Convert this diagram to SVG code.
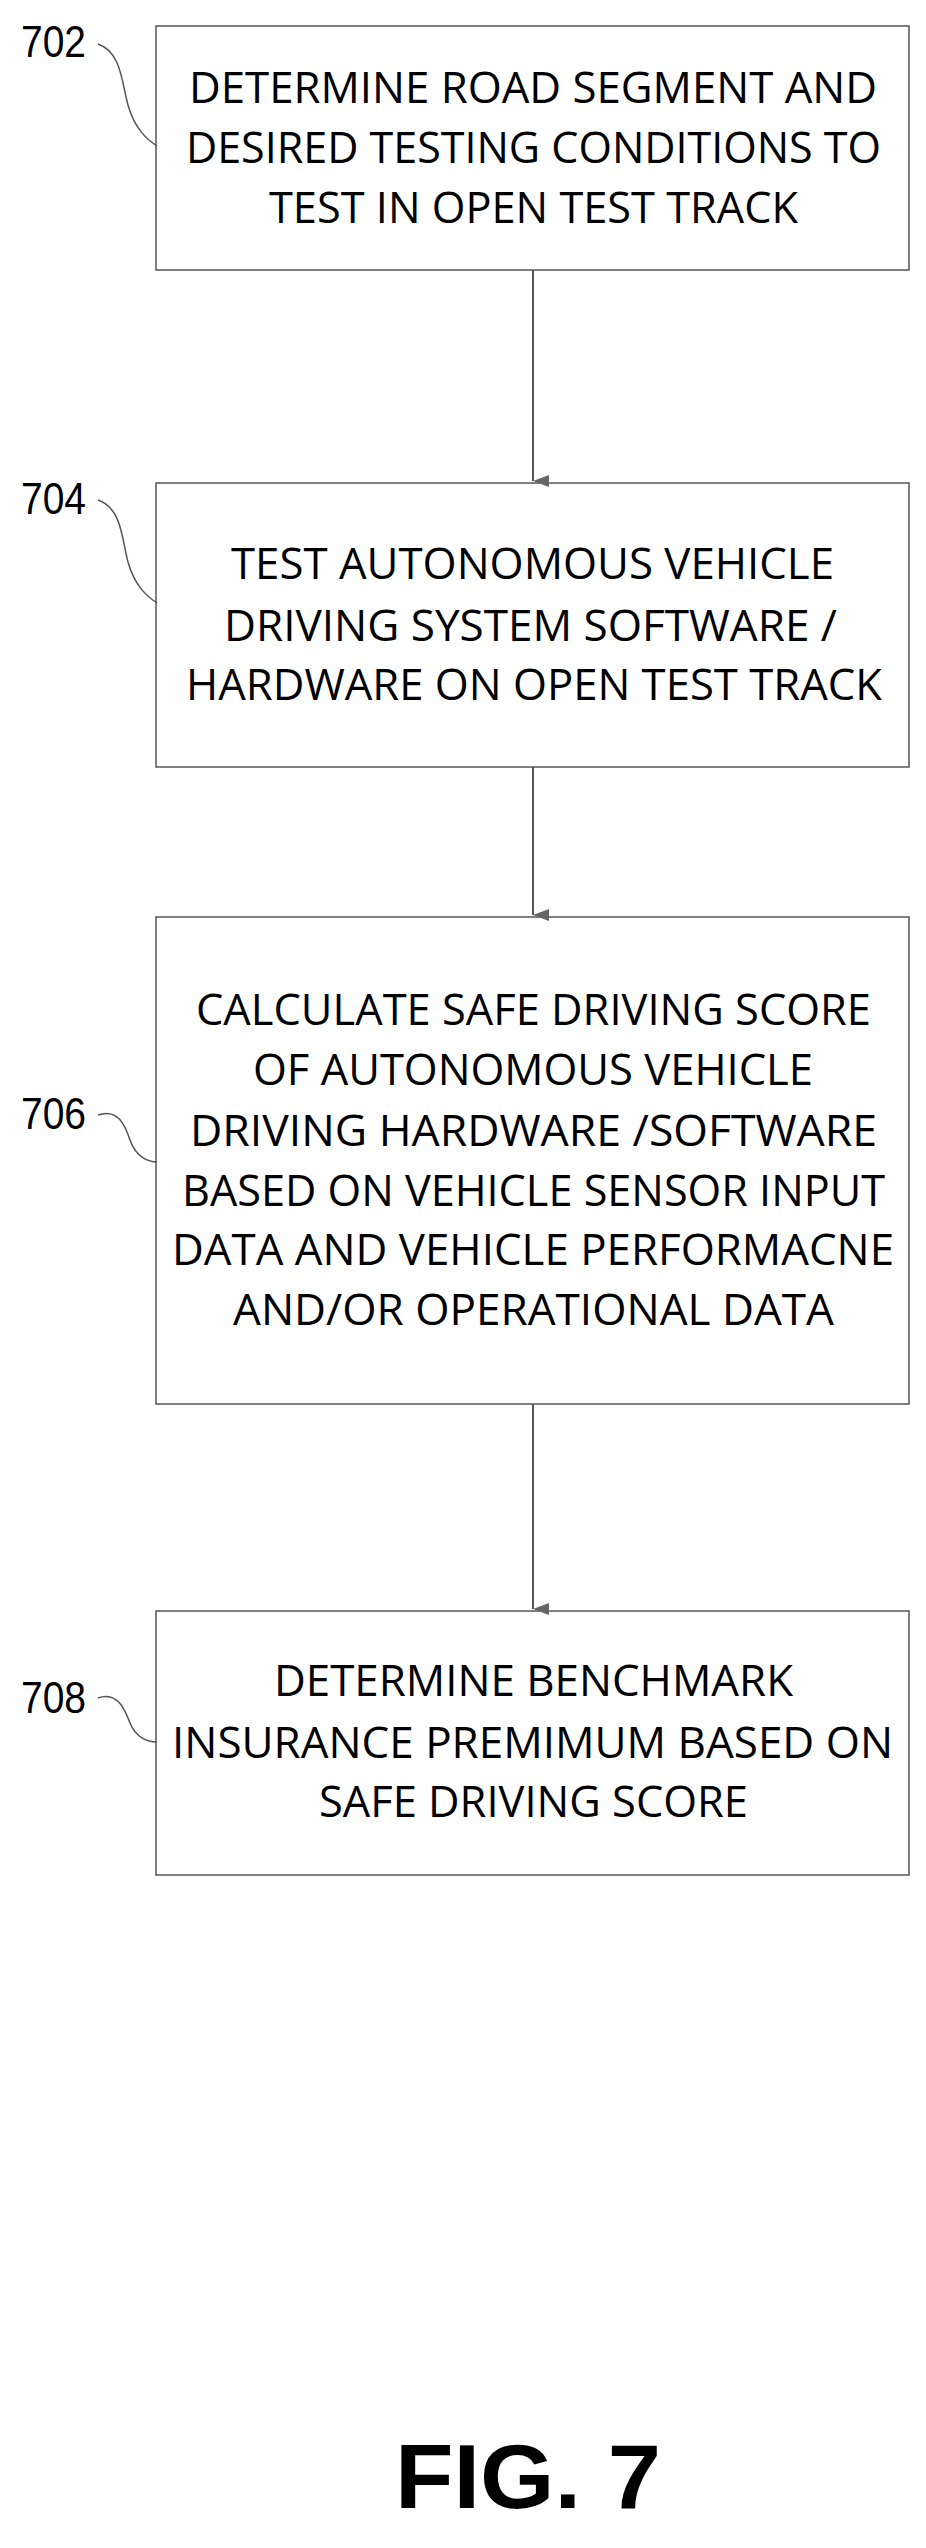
<svg xmlns="http://www.w3.org/2000/svg" width="926" height="2548" viewBox="0 0 926 2548">
<style>
.box{fill:#fff;stroke:#555;stroke-width:1.5}
.t{font-family:"Open Sans","Liberation Sans",sans-serif;font-size:43px;fill:#000}
.lbl{font-family:"Liberation Sans",sans-serif;font-size:44px;fill:#000}
.ld{fill:none;stroke:#555;stroke-width:1.5}
.c{stroke:#555;stroke-width:2;fill:none}
</style>
<defs><marker id="ah" markerWidth="12" markerHeight="16" refX="6" refY="16" orient="auto" markerUnits="userSpaceOnUse" viewBox="0 0 12 16"><path d="M0,0 L12,0 L6,16 Z" fill="#666"/></marker></defs>
<rect width="926" height="2548" fill="#fff"/>
<g id="n702">
<rect class="box" x="156" y="26" width="753" height="244"/>
<text class="t" x="189" y="103" textLength="688" lengthAdjust="spacingAndGlyphs">DETERMINE ROAD SEGMENT AND</text>
<text class="t" x="186" y="163" textLength="695" lengthAdjust="spacingAndGlyphs">DESIRED TESTING CONDITIONS TO</text>
<text class="t" x="269" y="223" textLength="529" lengthAdjust="spacingAndGlyphs">TEST IN OPEN TEST TRACK</text>
<text class="lbl" x="21" y="57" textLength="65" lengthAdjust="spacingAndGlyphs">702</text>
<path class="ld" d="M98,44 C122,52 122,85 128,105 C135,130 148,140 157,146"/>
</g>
<g id="n704">
<rect class="box" x="156" y="483" width="753" height="284"/>
<text class="t" x="231" y="579" textLength="603" lengthAdjust="spacingAndGlyphs">TEST AUTONOMOUS VEHICLE</text>
<text class="t" x="224" y="641" textLength="613" lengthAdjust="spacingAndGlyphs">DRIVING SYSTEM SOFTWARE /</text>
<text class="t" x="186" y="700" textLength="696" lengthAdjust="spacingAndGlyphs">HARDWARE ON OPEN TEST TRACK</text>
<text class="lbl" x="21" y="514" textLength="65" lengthAdjust="spacingAndGlyphs">704</text>
<path class="ld" d="M98,500 C122,508 122,540 128,562 C135,587 148,597 157,603"/>
</g>
<g id="n706">
<rect class="box" x="156" y="917" width="753" height="487"/>
<text class="t" x="196" y="1025" textLength="675" lengthAdjust="spacingAndGlyphs">CALCULATE SAFE DRIVING SCORE</text>
<text class="t" x="253" y="1085" textLength="560" lengthAdjust="spacingAndGlyphs">OF AUTONOMOUS VEHICLE</text>
<text class="t" x="190" y="1146" textLength="687" lengthAdjust="spacingAndGlyphs">DRIVING HARDWARE /SOFTWARE</text>
<text class="t" x="182" y="1206" textLength="703" lengthAdjust="spacingAndGlyphs">BASED ON VEHICLE SENSOR INPUT</text>
<text class="t" x="172" y="1265" textLength="722" lengthAdjust="spacingAndGlyphs">DATA AND VEHICLE PERFORMACNE</text>
<text class="t" x="233" y="1325" textLength="601" lengthAdjust="spacingAndGlyphs">AND/OR OPERATIONAL DATA</text>
<text class="lbl" x="21" y="1129" textLength="65" lengthAdjust="spacingAndGlyphs">706</text>
<path class="ld" d="M98,1115 C118,1108 125,1125 130,1140 C136,1157 148,1162 157,1162"/>
</g>
<g id="n708">
<rect class="box" x="156" y="1611" width="753" height="264"/>
<text class="t" x="274" y="1696" textLength="519" lengthAdjust="spacingAndGlyphs">DETERMINE BENCHMARK</text>
<text class="t" x="172" y="1758" textLength="721" lengthAdjust="spacingAndGlyphs">INSURANCE PREMIMUM BASED ON</text>
<text class="t" x="319" y="1817" textLength="429" lengthAdjust="spacingAndGlyphs">SAFE DRIVING SCORE</text>
<text class="lbl" x="21" y="1713" textLength="65" lengthAdjust="spacingAndGlyphs">708</text>
<path class="ld" d="M98,1698 C118,1691 125,1710 130,1723 C136,1738 148,1742 157,1742"/>
</g>
<g id="connectors">
<line class="c" x1="533" y1="270" x2="533" y2="481" marker-end="url(#ah)"/>
<line class="c" x1="533" y1="767" x2="533" y2="915" marker-end="url(#ah)"/>
<line class="c" x1="533" y1="1404" x2="533" y2="1609" marker-end="url(#ah)"/>
</g>
<text x="395" y="2508" font-family="Liberation Sans,sans-serif" font-weight="bold" font-size="90" textLength="266" lengthAdjust="spacingAndGlyphs">FIG. 7</text>
</svg>
